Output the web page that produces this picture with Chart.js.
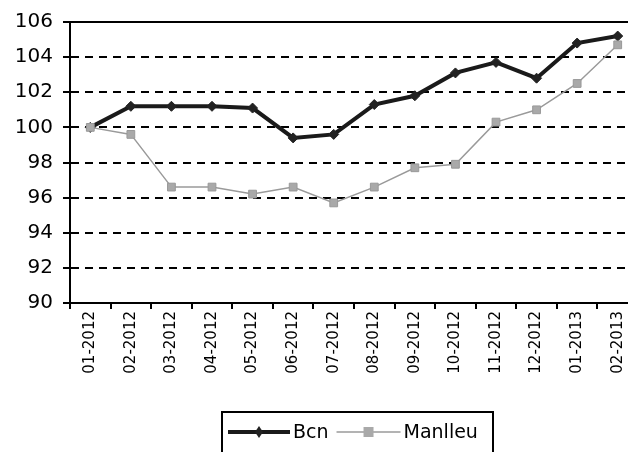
<!DOCTYPE html>
<html>
<head>
<meta charset="utf-8">
<script src="https://cdn.jsdelivr.net/npm/chart.js@4/dist/chart.umd.min.js"></script>
<style>
  html, body { margin: 0; padding: 0; background: #fff; overflow: hidden; }
  #wrap { width: 628px; height: 452px; overflow: hidden; }
</style>
</head>
<body>
<div id="wrap"><canvas id="chart" width="645" height="452"></canvas></div>
<script>
// ----------------------
// Data
// ----------------------
const months = ['01-2012', '02-2012', '03-2012', '04-2012', '05-2012', '06-2012', '07-2012',
                '08-2012', '09-2012', '10-2012', '11-2012', '12-2012', '01-2013', '02-2013'];
const bcn = [100, 101.2, 101.2, 101.2, 101.1, 99.4, 99.6, 101.3, 101.8, 103.1, 103.7, 102.8, 104.8, 105.2];
const manlleu = [100, 99.6, 96.6, 96.6, 96.2, 96.6, 95.7, 96.6, 97.7, 97.9, 100.3, 101.0, 102.5, 104.7];
const yMin = 90, yMax = 106, yStep = 2;

const ctx = document.getElementById('chart').getContext('2d');

// ----------------------
// Boxed legend under the axis
// ----------------------
const boxLegend = {
  id: 'boxLegend',
  afterDraw(chart) {
    const c = chart.ctx;
    const left = 222, top = 412, right = 493;
    c.save();
    c.lineWidth = 2;
    c.strokeStyle = '#000';
    c.strokeRect(left, top, right - left, 60);

    const y = 432;
    let x = left + 6;
    c.font = '19px "DejaVu Sans"';
    c.textBaseline = 'middle';
    chart.data.datasets.slice().sort((a, b) => b.order - a.order).forEach(ds => {
      const len = ds.label === 'Bcn' ? 62 : 64;
      c.beginPath();
      c.strokeStyle = ds.borderColor;
      c.lineWidth = ds.borderWidth;
      c.moveTo(x, y);
      c.lineTo(x + len, y);
      c.stroke();
      const mx = x + len / 2;
      c.fillStyle = ds.pointBackgroundColor;
      c.beginPath();
      if (ds.pointStyle === 'rectRot') {
        c.moveTo(mx, y - 6); c.lineTo(mx + 4, y); c.lineTo(mx, y + 6); c.lineTo(mx - 4, y);
        c.closePath();
      } else {
        c.rect(mx - 5, y - 5, 10, 10);
      }
      c.fill();
      c.fillStyle = '#000';
      c.fillText(ds.label, x + len + 3, y + 1);
      x += len + 3 + c.measureText(ds.label).width + 8;
    });
    c.restore();
  }
};

new Chart(ctx, {
  type: 'line',
  data: {
    labels: months,
    datasets: [
      {
        label: 'Bcn', data: bcn, order: 1,
        borderColor: '#1a1a1a', borderWidth: 4,
        pointStyle: 'rectRot', pointRadius: 5,
        pointBackgroundColor: '#222', pointBorderColor: '#222', pointBorderWidth: 1,
        tension: 0
      },
      {
        label: 'Manlleu', data: manlleu, order: 0,
        borderColor: '#9a9a9a', borderWidth: 1.5,
        pointStyle: 'rect', pointRadius: 5.5,
        pointBackgroundColor: '#a9a9a9', pointBorderColor: '#999', pointBorderWidth: 1,
        tension: 0
      }
    ]
  },
  options: {
    responsive: false,
    animation: false,
    layout: { padding: { top: 22, left: 0, right: 7, bottom: 59 } },
    plugins: { legend: { display: false }, tooltip: { enabled: false } },
    scales: {
      x: {
        offset: true,
        afterFit: s => { s.height = 90; },
        grid: { drawOnChartArea: false, drawTicks: true, tickLength: 6, color: '#000', lineWidth: 2, offset: true },
        border: { display: true, color: '#000', width: 2 },
        ticks: {
          color: '#000', font: { family: 'DejaVu Sans', size: 15 },
          minRotation: 90, maxRotation: 90, padding: 2, autoSkip: false
        }
      },
      y: {
        min: yMin, max: yMax,
        afterFit: s => { s.width = 70; },
        grid: { color: '#000', lineWidth: 2, drawTicks: true, tickLength: 7 },
        border: {
          display: true, color: '#000', width: 2,
          dash: c => (c.tick && (c.tick.value === yMax || c.tick.value === yMin)) ? [] : [8, 6]
        },
        ticks: { stepSize: yStep, color: '#000', font: { family: 'DejaVu Sans', size: 20 }, padding: 10 }
      }
    }
  },
  plugins: [boxLegend]
});
</script>
</body>
</html>
